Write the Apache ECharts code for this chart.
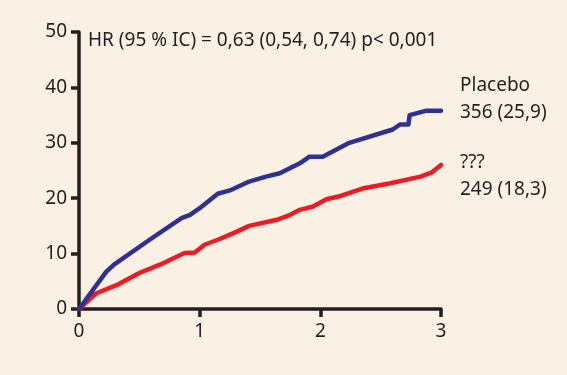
<!DOCTYPE html>
<html><head><meta charset="utf-8">
<script src="https://cdn.jsdelivr.net/npm/echarts@6/dist/echarts.min.js"></script>
<style>html,body{margin:0;padding:0;background:#fbf0e4;}#c{width:567px;height:375px;}</style>
</head><body><div id="c"></div>
<script>
var placeboX = [0, 0.225, 0.29, 0.585, 0.85, 0.92, 1.0, 1.15, 1.25, 1.41, 1.55, 1.664, 1.83, 1.91, 2.02, 2.24, 2.60, 2.66, 2.73, 2.74, 2.88, 3.0];
var placeboY = [0, 6.7, 8.0, 12.5, 16.4, 17.0, 18.2, 20.8, 21.4, 23.0, 23.9, 24.5, 26.3, 27.5, 27.5, 30.0, 32.4, 33.3, 33.3, 35.0, 35.8, 35.8];
var treatX = [0, 0.14, 0.31, 0.50, 0.67, 0.875, 0.96, 1.04, 1.15, 1.28, 1.41, 1.64, 1.75, 1.83, 1.94, 2.05, 2.15, 2.36, 2.58, 2.83, 2.92, 3.0];
var treatY = [0, 2.8, 4.3, 6.5, 8.0, 10.1, 10.2, 11.6, 12.5, 13.7, 15.0, 16.1, 17.0, 17.9, 18.5, 19.8, 20.3, 21.8, 22.7, 23.9, 24.6, 26.0];
var xTicks = [0, 1, 2, 3];
var yTicks = [0, 10, 20, 30, 40, 50];
var hrText = 'HR (95 % IC) = 0,63 (0,54, 0,74) p< 0,001';
var placeboLabel = ['Placebo', '356 (25,9)'];
var treatLabel = ['???', '249 (18,3)'];

function pairs(xs, ys){ return xs.map(function(x,i){return [x, ys[i]];}); }
var FONT = 'Noto Sans';
var FS = 19;
var ink = '#231f20';
function txt(s, x, y){
  return {type: 'text', x: x, y: y, style: {text: s, fill: ink, font: FS + 'px "' + FONT + '"', verticalAlign: 'middle', align: 'left'}};
}
var chart = echarts.init(document.getElementById('c'), null, {renderer:'canvas'});
chart.setOption({
  backgroundColor: '#fbf0e4',
  animation: false,
  grid: {left: 79, right: 126, top: 32, bottom: 66},
  xAxis: {
    type: 'value', min: xTicks[0], max: xTicks[xTicks.length-1], interval: 1,
    axisLine: {show: true, onZero: false, lineStyle: {color: ink, width: 3.5}},
    axisTick: {show: true, inside: false, length: 8, lineStyle: {color: ink, width: 3.5}},
    axisLabel: {color: ink, fontSize: FS, fontFamily: FONT, margin: 13},
    splitLine: {show: false}
  },
  yAxis: {
    type: 'value', min: yTicks[0], max: yTicks[yTicks.length-1], interval: 10,
    axisLine: {show: true, onZero: false, lineStyle: {color: ink, width: 3.5}},
    axisTick: {show: true, inside: false, length: 8, lineStyle: {color: ink, width: 3.5}},
    axisLabel: {color: ink, fontSize: FS, fontFamily: FONT, margin: 12},
    splitLine: {show: false}
  },
  series: [
    {type: 'line', data: pairs(treatX, treatY), showSymbol: false, smooth: false,
     lineStyle: {color: '#ed1c24', width: 4.5, cap: 'round', join: 'round'}},
    {type: 'line', data: pairs(placeboX, placeboY), showSymbol: false, smooth: false,
     lineStyle: {color: '#2e3192', width: 4.5, cap: 'round', join: 'round'}}
  ],
  graphic: [
    txt(hrText, 88, 41),
    txt(placeboLabel[0], 460, 86),
    txt(placeboLabel[1], 460, 113),
    txt(treatLabel[0], 460, 163),
    txt(treatLabel[1], 460, 190)
  ]
});
</script></body></html>
